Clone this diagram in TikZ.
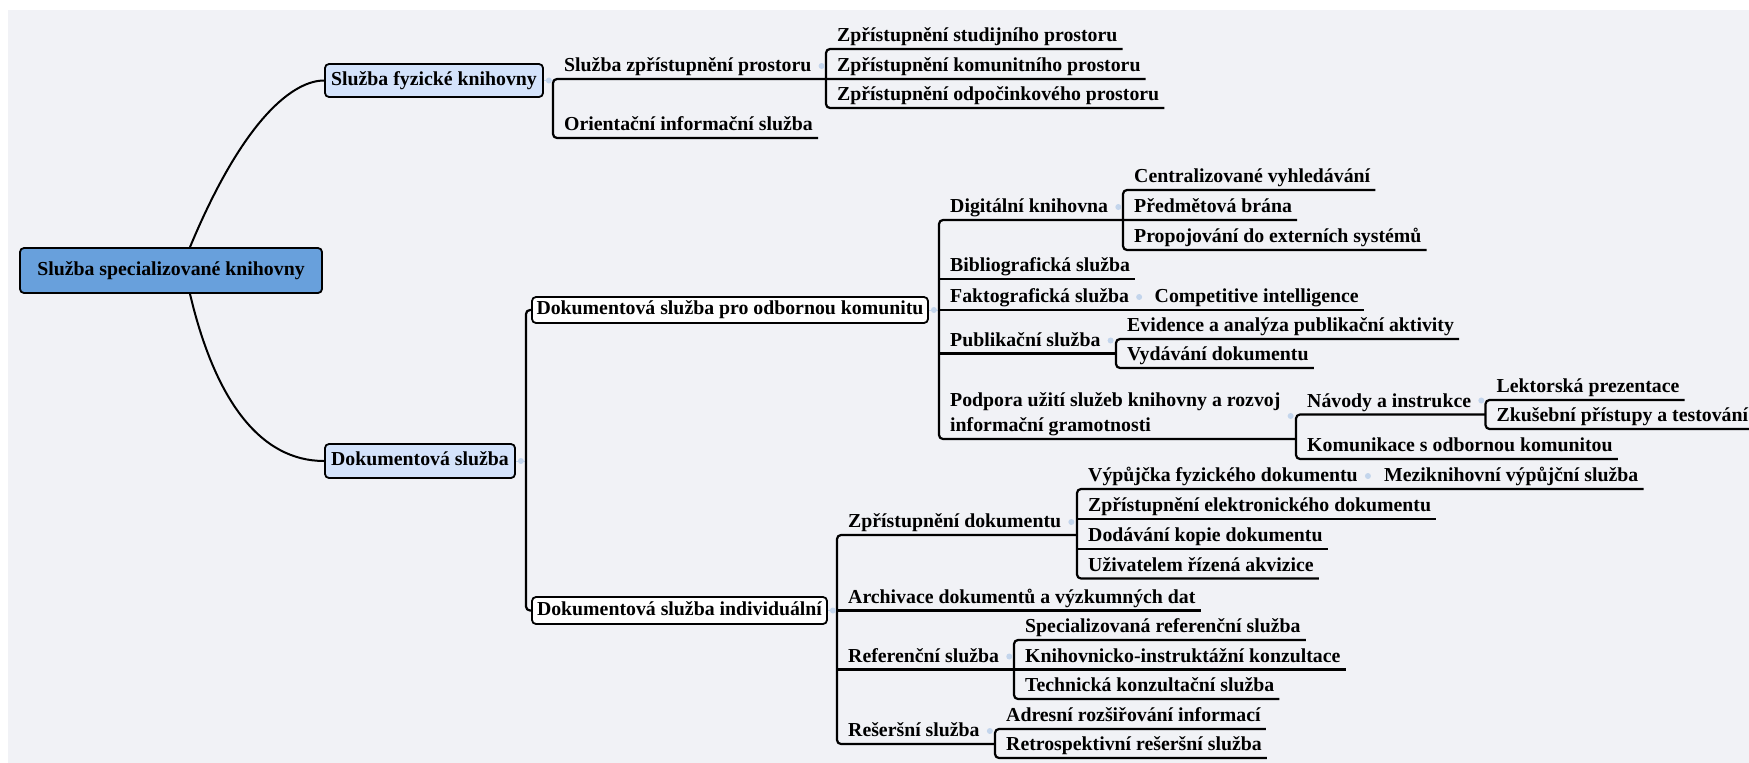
\documentclass[tikz,border=0pt]{standalone}
\usepackage{fontspec}
\setmainfont{Liberation Serif}
\usepackage{xcolor}
\usepackage{tikz}
\definecolor{paper}{HTML}{F1F2F6}
\definecolor{rootfill}{HTML}{68A0DC}
\definecolor{mainfill}{HTML}{D4E3FB}
\definecolor{knobcol}{HTML}{C3D5EC}

\begin{document}
\begin{tikzpicture}[x=1pt, y=-1pt,
  box/.style={draw, line width=1.8pt, rounded corners=4pt, inner sep=0pt, text height=13.5pt, text depth=4.5pt, font=\bfseries\fontsize{19.8}{25.7}\selectfont},
  leaf/.style={anchor=south west, inner sep=0pt, text height=15pt, text depth=7pt, font=\bfseries\fontsize{19.8}{25.7}\selectfont, execute at begin node=\hspace*{11pt}, execute at end node=\hspace*{5pt}},
  branch/.style={line width=2.2pt, rounded corners=4pt},
  curve/.style={line width=2pt},
  faint/.style={knobcol, line width=1pt}]
	\fill[white] (0,0) rectangle (1749,763);
	\fill[paper] (7.5,10) rectangle (1749,763);
	\useasboundingbox (0,0) rectangle (1749,763);

	\node[box, fill=rootfill, minimum width=302pt, minimum height=45pt] (root) at (171,270.5) {Služba specializované knihovny};
	\node[box, fill=mainfill, minimum width=218pt, minimum height=33pt] (fyz) at (434,80.5) {Služba fyzické knihovny};
	\node[box, fill=mainfill, minimum width=190pt, minimum height=34pt] (dok) at (420,461) {Dokumentová služba};
	\node[box, fill=white, minimum width=396pt, minimum height=26pt] (komuna) at (730,310) {Dokumentová služba pro odbornou komunitu};
	\node[box, fill=white, minimum width=295pt, minimum height=27pt] (indiv) at (679.5,610.5) {Dokumentová služba individuální};
	\coordinate (dokbar) at (526,461);

	\node[leaf] (prostor) at (553,79) {Služba zpřístupnění prostoru};
	\node[leaf] (orient) at (553,138) {Orientační informační služba};
	\node[leaf] (studij) at (826,49) {Zpřístupnění studijního prostoru};
	\node[leaf] (komunit) at (826,79) {Zpřístupnění komunitního prostoru};
	\node[leaf] (odpoc) at (826,108) {Zpřístupnění odpočinkového prostoru};

	\node[leaf] (digi) at (939,220) {Digitální knihovna};
	\node[leaf] (biblio) at (939,279) {Bibliografická služba};
	\node[leaf] (fakto) at (939,310) {Faktografická služba};
	\node[leaf] (publ) at (939,353.5) {Publikační služba};
	\node[leaf] (podpora) at (939,439) {\begin{tabular}[b]{@{}l@{}}Podpora užití služeb knihovny a rozvoj\\informační gramotnosti\end{tabular}};
	\node[leaf] (central) at (1123,190) {Centralizované vyhledávání};
	\node[leaf] (predmet) at (1123,220) {Předmětová brána};
	\node[leaf] (propoj) at (1123,250) {Propojování do externích systémů};
	\node[leaf] (compet) at (1143.5,310) {Competitive intelligence};
	\node[leaf] (evid) at (1116,339) {Evidence a analýza publikační aktivity};
	\node[leaf] (vydav) at (1116,368) {Vydávání dokumentu};
	\node[leaf] (navody) at (1296,414.5) {Návody a instrukce};
	\node[leaf] (komunik) at (1296,459) {Komunikace s odbornou komunitou};
	\node[leaf] (lektor) at (1485.5,400) {Lektorská prezentace};
	\node[leaf] (zkus) at (1485.5,429) {Zkušební přístupy a testování};

	\node[leaf] (zpdok) at (837,535) {Zpřístupnění dokumentu};
	\node[leaf] (archiv) at (837,610.5) {Archivace dokumentů a výzkumných dat};
	\node[leaf] (refer) at (837,669.5) {Referenční služba};
	\node[leaf] (reser) at (837,744) {Rešeršní služba};
	\node[leaf] (vypuj) at (1077,489) {Výpůjčka fyzického dokumentu};
	\node[leaf] (elektr) at (1077,519) {Zpřístupnění elektronického dokumentu};
	\node[leaf] (kopie) at (1077,549) {Dodávání kopie dokumentu};
	\node[leaf] (akviz) at (1077,578.5) {Uživatelem řízená akvizice};
	\node[leaf] (mezi) at (1373,489) {Meziknihovní výpůjční služba};
	\node[leaf] (specref) at (1014,640) {Specializovaná referenční služba};
	\node[leaf] (knihinst) at (1014,669.5) {Knihovnicko-instruktážní konzultace};
	\node[leaf] (techn) at (1014,699) {Technická konzultační služba};
	\node[leaf] (adresni) at (995,729) {Adresní rozšiřování informací};
	\node[leaf] (retro) at (995,758) {Retrospektivní rešeršní služba};

	\draw[curve] ([xshift=19pt]root.north) .. controls (245,115) and (295,80.5) .. (fyz.west);
	\draw[curve] ([xshift=19pt]root.south) .. controls (215,400) and (260,461) .. (dok.west);

	\draw[faint] (fyz.east) -- (prostor.south west |- fyz.east);
	\draw[faint] (dok.east) -- (dokbar);
	\draw[faint] (komuna.east) -- (digi.south west |- komuna.east);
	\draw[faint] (indiv.east) -- (zpdok.south west |- indiv.east);

	\draw[branch] (komunit.south east) -- (prostor.south west) -- (orient.south west) -- (orient.south east);
	\draw[branch] (studij.south east) -- (studij.south west) -- (odpoc.south west) -- (odpoc.south east);
	\draw[branch] (komuna.west) -| (dokbar) |- (indiv.west);
	\draw[branch] (predmet.south east) -- (digi.south west) -- (podpora.south west) -- (navody.south west |- podpora.south);
	\draw[branch] (biblio.south west) -- (biblio.south east);
	\draw[branch] (fakto.south west) -- (compet.south east);
	\draw[branch] (publ.south west) -- (evid.south west |- publ.south);
	\draw[branch] (central.south east) -- (central.south west) -- (propoj.south west) -- (propoj.south east);
	\draw[branch] (evid.south east) -- (evid.south west) -- (vydav.south west) -- (vydav.south east);
	\draw[branch] (lektor.south west |- navody.south) -- (navody.south west) -- (komunik.south west) -- (komunik.south east);
	\draw[branch] (lektor.south east) -- (lektor.south west) -- (zkus.south west) -- (zkus.south east);
	\draw[branch] (vypuj.south west |- zpdok.south) -- (zpdok.south west) -- (reser.south west) -- (adresni.south west |- reser.south);
	\draw[branch] (archiv.south west) -- (archiv.south east);
	\draw[branch] (refer.south west) -- (specref.south west |- refer.south);
	\draw[branch] (mezi.south east) -- (vypuj.south west) -- (akviz.south west) -- (akviz.south east);
	\draw[branch] (elektr.south west) -- (elektr.south east);
	\draw[branch] (kopie.south west) -- (kopie.south east);
	\draw[branch] (specref.south east) -- (specref.south west) -- (techn.south west) -- (techn.south east);
	\draw[branch] (knihinst.south west) -- (knihinst.south east);
	\draw[branch] (adresni.south east) -- (adresni.south west) -- (retro.south west) -- (retro.south east);

	\fill[knobcol] ([xshift=5pt]fyz.east) circle (3);
	\fill[knobcol] ([xshift=5pt]dok.east) circle (3);
	\fill[knobcol] ([xshift=5pt]komuna.east) circle (3);
	\fill[knobcol] ([xshift=5pt]indiv.east) circle (3);
	\fill[knobcol] ([xshift=5pt,yshift=13pt]prostor.south east) circle (3);
	\fill[knobcol] ([xshift=5pt,yshift=13pt]digi.south east) circle (3);
	\fill[knobcol] ([xshift=5pt,yshift=13pt]fakto.south east) circle (3);
	\fill[knobcol] ([xshift=5pt,yshift=13pt]publ.south east) circle (3);
	\fill[knobcol] ([xshift=5pt,yshift=23pt]podpora.south east) circle (3);
	\fill[knobcol] ([xshift=5pt,yshift=14pt]navody.south east) circle (3);
	\fill[knobcol] ([xshift=5pt,yshift=13pt]zpdok.south east) circle (3);
	\fill[knobcol] ([xshift=5pt,yshift=13pt]vypuj.south east) circle (3);
	\fill[knobcol] ([xshift=5pt,yshift=13pt]refer.south east) circle (3);
	\fill[knobcol] ([xshift=5pt,yshift=13pt]reser.south east) circle (3);
\end{tikzpicture}
\end{document}
